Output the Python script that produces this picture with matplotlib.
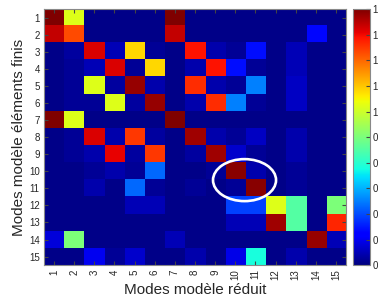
import numpy as np
import matplotlib
matplotlib.use("Agg")
import matplotlib.pyplot as plt
from matplotlib.patches import Ellipse
from matplotlib.ticker import FormatStrFormatter

plt.rcParams['font.family'] = ['Liberation Sans', 'DejaVu Sans']

modes_reduit = list(range(1, 16))
modes_ef = list(range(1, 16))

# rows: modes éléments finis (1..15), cols: modes réduit (1..15)
row1  = [1.00, 0.62, 0.01, 0.01, 0.01, 0.01, 1.00, 0.01, 0.01, 0.01, 0.01, 0.01, 0.01, 0.01, 0.01]
row2  = [0.94, 0.83, 0.01, 0.01, 0.01, 0.01, 0.94, 0.01, 0.01, 0.01, 0.01, 0.01, 0.01, 0.13, 0.01]
row3  = [0.01, 0.03, 0.92, 0.05, 0.68, 0.02, 0.01, 0.89, 0.04, 0.02, 0.14, 0.01, 0.05, 0.01, 0.01]
row4  = [0.01, 0.02, 0.05, 0.92, 0.02, 0.68, 0.01, 0.04, 0.89, 0.14, 0.02, 0.01, 0.05, 0.01, 0.01]
row5  = [0.01, 0.02, 0.62, 0.03, 0.98, 0.04, 0.01, 0.86, 0.04, 0.02, 0.25, 0.01, 0.06, 0.01, 0.01]
row6  = [0.01, 0.02, 0.02, 0.62, 0.03, 0.98, 0.01, 0.04, 0.86, 0.25, 0.02, 0.01, 0.06, 0.01, 0.01]
row7  = [1.00, 0.62, 0.01, 0.01, 0.01, 0.01, 1.00, 0.01, 0.01, 0.01, 0.01, 0.01, 0.01, 0.01, 0.01]
row8  = [0.01, 0.02, 0.92, 0.04, 0.85, 0.03, 0.01, 0.97, 0.04, 0.02, 0.06, 0.01, 0.04, 0.01, 0.01]
row9  = [0.01, 0.02, 0.04, 0.91, 0.03, 0.85, 0.01, 0.03, 0.97, 0.07, 0.02, 0.01, 0.04, 0.01, 0.01]
row10 = [0.01, 0.01, 0.02, 0.04, 0.02, 0.23, 0.01, 0.01, 0.02, 0.99, 0.04, 0.01, 0.02, 0.01, 0.01]
row11 = [0.01, 0.01, 0.04, 0.01, 0.23, 0.02, 0.01, 0.02, 0.01, 0.02, 0.99, 0.01, 0.02, 0.01, 0.01]
row12 = [0.01, 0.01, 0.01, 0.01, 0.05, 0.05, 0.01, 0.01, 0.01, 0.19, 0.19, 0.62, 0.45, 0.01, 0.50]
row13 = [0.01, 0.01, 0.01, 0.01, 0.01, 0.01, 0.01, 0.01, 0.01, 0.05, 0.05, 0.97, 0.45, 0.01, 0.87]
row14 = [0.08, 0.50, 0.01, 0.01, 0.01, 0.01, 0.05, 0.01, 0.01, 0.01, 0.01, 0.01, 0.01, 0.98, 0.05]
row15 = [0.01, 0.01, 0.10, 0.02, 0.07, 0.01, 0.01, 0.04, 0.01, 0.09, 0.38, 0.01, 0.04, 0.01, 0.01]
mac = np.array([row1, row2, row3, row4, row5, row6, row7, row8, row9, row10,
                row11, row12, row13, row14, row15])

cbar_ticks = [0, 0.1, 0.2, 0.3, 0.4, 0.5, 0.6, 0.7, 0.8, 0.9, 1.0]

fig = plt.figure(figsize=(3.79, 3.03), dpi=100)
ax = fig.add_axes([0.116, 0.125, 0.797, 0.845])
cax = fig.add_axes([0.931, 0.125, 0.045, 0.845])

im = ax.imshow(mac, cmap='jet', vmin=0, vmax=1, aspect='auto',
               extent=[0.5, 15.5, 15.5, 0.5], interpolation='nearest')

ax.set_xticks(modes_reduit)
ax.set_xticklabels([str(m) for m in modes_reduit], rotation=90, fontsize=7, color='#262626')
ax.set_yticks(modes_ef)
ax.set_yticklabels([str(m) for m in modes_ef], fontsize=7, color='#262626')
ax.tick_params(direction='in', length=3, top=True, right=True, color='#444444', pad=3)
for s in ax.spines.values():
    s.set_color('#888888')
    s.set_linewidth(0.8)

ax.set_xlabel('Modes modèle réduit', fontsize=11, color='#262626', labelpad=2)
ax.set_ylabel('Modes modèle éléments finis', fontsize=11, color='#262626', labelpad=2)

ell = Ellipse((10.46, 10.52), 3.13, 2.46, fill=False, edgecolor='white', linewidth=1.9)
ax.add_patch(ell)

cb = fig.colorbar(im, cax=cax, ticks=cbar_ticks)
cb.ax.yaxis.set_major_formatter(FormatStrFormatter('%.0f'))
cb.ax.tick_params(direction='in', length=3, labelsize=7, labelcolor='#262626', color='#444444', pad=2)
cb.outline.set_edgecolor('#888888')
cb.outline.set_linewidth(0.8)

fig.savefig('out.png', dpi=100)
